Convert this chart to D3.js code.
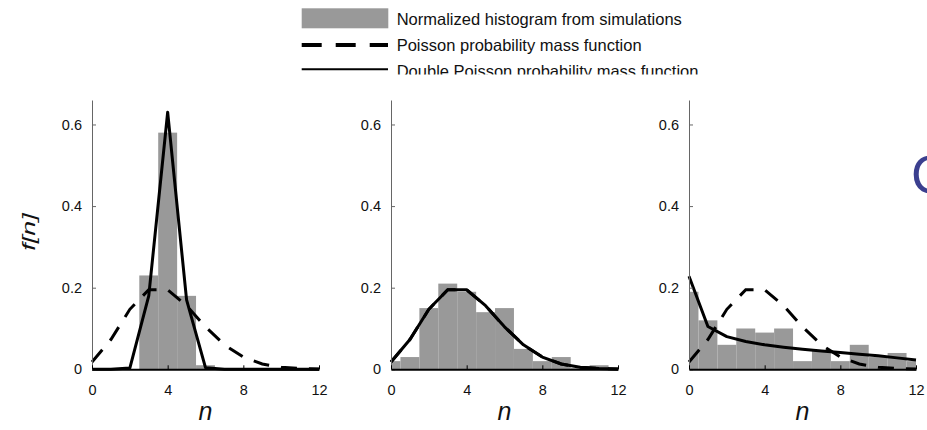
<!DOCTYPE html>
<html>
<head>
<meta charset="utf-8">
<script src="https://cdn.jsdelivr.net/npm/d3@7"></script>
<style>
  body { margin: 0; background: #fff; }
  #graf { width: 927px; height: 430px; }
  text { font-family: 'Liberation Sans', Arial, sans-serif; fill: #111; }
</style>
</head>
<body>
<div id="graf"></div>
<script>
// I. Datos
nValores = [0, 1, 2, 3, 4, 5, 6, 7, 8, 9, 10, 11, 12]
xTicks = [0, 4, 8, 12]
yTicks = [0, 0.2, 0.4, 0.6]
leyenda = ['Normalized histogram from simulations',
           'Poisson probability mass function',
           'Double Poisson probability mass function']

// histogramas normalizados (un valor por n)
histA = [0, 0, 0, 0.23, 0.58, 0.18, 0.01, 0, 0, 0, 0, 0, 0]
histB = [0.02, 0.03, 0.15, 0.21, 0.19, 0.14, 0.15, 0.05, 0.02, 0.03, 0.003, 0.01, 0]
histC = [0.19, 0.12, 0.06, 0.10, 0.09, 0.10, 0.02, 0.045, 0.02, 0.06, 0.03, 0.04, 0.02]

// Poisson (la misma en los tres paneles)
poisson = [0.018, 0.073, 0.147, 0.195, 0.195, 0.156, 0.104, 0.060, 0.030, 0.013, 0.005, 0.002, 0.001]

// doble Poisson
dobleA = [0, 0, 0.003, 0.18, 0.63, 0.17, 0.004, 0, 0, 0, 0, 0, 0]
dobleB = [0.018, 0.073, 0.147, 0.195, 0.195, 0.156, 0.104, 0.060, 0.030, 0.013, 0.005, 0.002, 0.001]
dobleC = [0.228, 0.105, 0.08, 0.068, 0.06, 0.054, 0.049, 0.045, 0.041, 0.037, 0.033, 0.028, 0.023]

paneles = [
  { izq: 92,  hist: histA, pois: poisson, doble: dobleA, etiquetaY: true },
  { izq: 391, hist: histB, pois: poisson, doble: dobleB, etiquetaY: false },
  { izq: 689, hist: histC, pois: poisson, doble: dobleC, etiquetaY: false }
]

// II. Configuración
ancho_total = 927
alto_total = 430
ancho = 227
base = 369.3
tope = 100

svg = d3.select('#graf').append('svg')
        .attr('width', ancho_total)
        .attr('height', alto_total)

y = d3.scaleLinear()
      .domain([0, 0.66])
      .range([base, tope])

gris = '#999999'

// III. Paneles
paneles.forEach(p => {
  x = d3.scaleLinear()
        .domain([0, 12])
        .range([p.izq, p.izq + ancho])
        .clamp(true)

  g = svg.append('g')

  // barras del histograma, centradas en cada n
  g.selectAll('rect')
    .data(nValores)
    .enter()
    .append('rect')
      .attr('x', n => x(n - 0.5))
      .attr('width', n => x(n + 0.5) - x(n - 0.5))
      .attr('y', n => y(p.hist[n]))
      .attr('height', n => y(0) - y(p.hist[n]))
      .attr('fill', gris)

  linea = d3.line()
            .x(d => x(d[0]))
            .y(d => y(d[1]))

  g.append('path')
    .datum(nValores.map(n => [n, p.pois[n]]))
    .attr('d', linea)
    .attr('fill', 'none')
    .attr('stroke', '#000')
    .attr('stroke-width', 3)
    .attr('stroke-dasharray', '16,12')

  g.append('path')
    .datum(nValores.map(n => [n, p.doble[n]]))
    .attr('d', linea)
    .attr('fill', 'none')
    .attr('stroke', '#000')
    .attr('stroke-width', 3)
    .attr('stroke-linejoin', 'round')

  // ejes con marcas hacia dentro
  yAxisCall = d3.axisLeft(y)
                .tickValues(yTicks)
                .tickSize(-4)
                .tickSizeOuter(0)
                .tickPadding(10)
                .tickFormat(d => d === 0 ? '0' : d3.format('.1f')(d))
  yAxisGroup = g.append('g')
                .attr('transform', `translate(${ p.izq }, 0)`)
                .call(yAxisCall)
  yAxisGroup.select('.domain').attr('stroke', '#666')
  yAxisGroup.selectAll('.tick line').attr('stroke', '#666')

  xAxisCall = d3.axisBottom(x)
                .tickValues(xTicks)
                .tickSize(-4)
                .tickSizeOuter(0)
                .tickPadding(15)
  xAxisGroup = g.append('g')
                .attr('transform', `translate(0, ${ base })`)
                .call(xAxisCall)
  xAxisGroup.select('.domain').attr('stroke', '#000').attr('stroke-width', 2)

  g.selectAll('.tick text')
    .attr('font-size', '14.5px')
    .attr('font-family', "'Liberation Sans', Arial, sans-serif")
    .attr('fill', '#000')

  // título del eje x
  g.append('text')
    .attr('x', x(6))
    .attr('y', 420)
    .attr('text-anchor', 'middle')
    .style('font-size', '25px')
    .style('font-style', 'italic')
    .text('n')

  if (p.etiquetaY) {
    g.append('text')
      .attr('transform', `translate(35, 232) rotate(-90) scale(1.5, 1)`)
      .attr('text-anchor', 'middle')
      .style('font-size', '18px')
      .style('font-style', 'italic')
      .text('f[n]')
  }
})

// IV. Leyenda (la última línea aparece cortada en la figura)
svg.append('clipPath')
    .attr('id', 'corte')
  .append('rect')
    .attr('x', 0).attr('y', 0)
    .attr('width', ancho_total).attr('height', 74.5)

ley = svg.append('g').attr('clip-path', 'url(#corte)')

ley.append('rect')
    .attr('x', 301.7).attr('y', 8.3)
    .attr('width', 86.6).attr('height', 20)
    .attr('fill', gris)

ley.append('line')
    .attr('x1', 301.7).attr('x2', 388)
    .attr('y1', 45).attr('y2', 45)
    .attr('stroke', '#000')
    .attr('stroke-width', 4)
    .attr('stroke-dasharray', '20,14')

ley.append('line')
    .attr('x1', 301.7).attr('x2', 388)
    .attr('y1', 69.3).attr('y2', 69.3)
    .attr('stroke', '#000')
    .attr('stroke-width', 2)

ley.selectAll('text.ley')
    .data(leyenda)
    .enter()
    .append('text')
      .attr('class', 'ley')
      .attr('x', 396.7)
      .attr('y', (d, i) => [25, 51, 77][i])
      .style('font-size', '16.5px')
      .text(d => d)

// letra cortada en el borde derecho
svg.append('text')
    .attr('x', 911)
    .attr('y', 193)
    .style('font-size', '53px')
    .style('fill', '#3b3f8f')
    .text('C')
</script>
</body>
</html>
